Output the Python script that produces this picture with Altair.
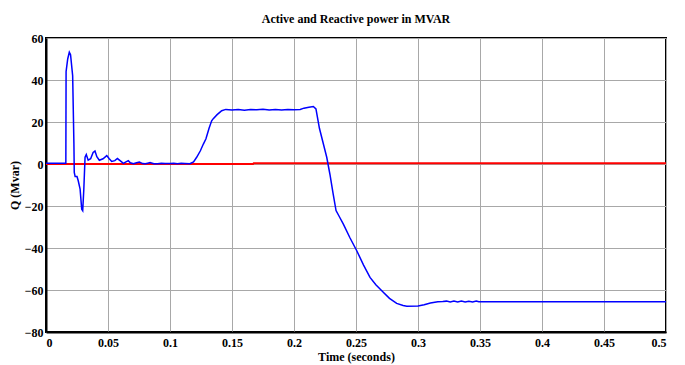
import altair as alt
import pandas as pd

# Blue trace: reactive power Q (Mvar)
t_q = [0, 0.016, 0.0162, 0.0175, 0.0188, 0.0198, 0.0215, 0.0225, 0.0228, 0.0235, 0.025, 0.026,
       0.0275, 0.0288, 0.0296, 0.0305, 0.0315, 0.0325, 0.034, 0.036, 0.038, 0.0395, 0.041, 0.043,
       0.046, 0.049, 0.051, 0.053, 0.0555, 0.0576, 0.060, 0.0624, 0.0645, 0.0664, 0.068, 0.0705,
       0.073, 0.0753, 0.078, 0.080, 0.082, 0.0839, 0.087, 0.090, 0.093, 0.096, 0.100, 0.103,
       0.106, 0.109, 0.112, 0.116, 0.119, 0.1215, 0.1245, 0.1269, 0.129, 0.1315, 0.1336, 0.1349,
       0.138, 0.1417, 0.145, 0.150, 0.155, 0.160, 0.165, 0.170, 0.175, 0.180, 0.185, 0.190,
       0.195, 0.200, 0.205, 0.208, 0.212, 0.2156, 0.2177, 0.2205, 0.2235, 0.2264, 0.229, 0.2315,
       0.2339, 0.2365, 0.2398, 0.245, 0.2506, 0.256, 0.2613, 0.266, 0.272, 0.277, 0.2828, 0.288,
       0.291, 0.300, 0.305, 0.310, 0.316, 0.320, 0.323, 0.326, 0.329, 0.332, 0.335, 0.338,
       0.341, 0.344, 0.347, 0.349, 0.5]
q_blue = [0.4, 0.4, 44, 50, 53.2, 52, 42, 10, -4, -6, -6, -8,
          -12, -21.5, -22.2, -12, 3.2, 4.5, 1.8, 2.5, 5.5, 6.2, 3.5, 1.8,
          2.5, 4, 2.5, 1.2, 1.6, 2.6, 1.5, 0.3, 1.0, 1.6, 0.6, 0.1,
          0.6, 0.9, 0.2, 0.1, 0.4, 0.7, 0.1, 0.1, 0.4, 0.2, 0.2, 0.4,
          0.1, 0.3, 0.2, 0.1, 1, 3.2, 6.3, 9.5, 12, 17, 20.6, 21.6,
          23.5, 25.4, 26, 25.7, 26, 25.6, 26, 25.8, 26.1, 25.7, 26, 25.7,
          26, 25.8, 26, 26.6, 27, 27.4, 26.2, 17, 10, 3.2, -5, -14,
          -22.2, -25, -28.6, -35, -41.3, -48, -54, -57.5, -61.1, -64, -66.4, -67.4,
          -67.7, -67.6, -67, -66.2, -65.6, -65.5, -65.3, -65.7, -65.3, -65.7, -65.3, -65.7,
          -65.4, -65.7, -65.2, -65.6, -65.6]

# Red trace
t_red = [0, 0.167, 0.1675, 0.5]
q_red = [0, 0, 0.3, 0.3]

x_ticks = [0, 0.05, 0.1, 0.15, 0.2, 0.25, 0.3, 0.35, 0.4, 0.45, 0.5]
y_ticks = [-80, -60, -40, -20, 0, 20, 40, 60]

df_blue = pd.DataFrame({"t": t_q, "q": q_blue})
df_red = pd.DataFrame({"t": t_red, "q": q_red})

font = "Liberation Serif"

x_enc = alt.X("t:Q", scale=alt.Scale(domain=[0, 0.5], nice=False, zero=False),
              axis=alt.Axis(values=x_ticks, title="Time (seconds)", format="~g",
                            grid=True, gridColor="#a8a8a8", gridWidth=1,
                            domainColor="black", domainWidth=2, tickSize=0,
                            labelPadding=5, titlePadding=3,
                            labelFont=font, labelFontSize=12, labelFontWeight="bold",
                            labelColor="black", titleFont=font, titleFontSize=12,
                            titleFontWeight="bold", titleColor="black",
                            labelOverlap=False))
y_enc = alt.Y("q:Q", scale=alt.Scale(domain=[-80, 60], nice=False, zero=False),
              axis=alt.Axis(values=y_ticks, title="Q (Mvar)",
                            grid=True, gridColor="#a8a8a8", gridWidth=1,
                            domainColor="black", domainWidth=2, tickSize=0,
                            labelPadding=3, titlePadding=3,
                            labelFont=font, labelFontSize=12, labelFontWeight="bold",
                            labelColor="black", titleFont=font, titleFontSize=12,
                            titleFontWeight="bold", titleColor="black",
                            labelOverlap=False))

red = alt.Chart(df_red).mark_line(color="#ff0000", strokeWidth=2).encode(x=x_enc, y=y_enc)
blue = alt.Chart(df_blue).mark_line(color="#0000ff", strokeWidth=1.5).encode(x="t:Q", y="q:Q")

chart = alt.layer(red, blue).properties(
    width=620, height=294,
    title=alt.TitleParams("Active and Reactive power in MVAR", font=font, fontSize=12,
                          fontWeight="bold", color="black", offset=6, anchor="middle",
                          frame="group"),
    autosize=alt.AutoSizeParams(type="none"),
    padding={"left": 38, "top": 30, "right": 11, "bottom": 40},
).configure_view(stroke="black", strokeWidth=2)

chart.save("out.html", embed_options={"renderer": "svg", "actions": False})
